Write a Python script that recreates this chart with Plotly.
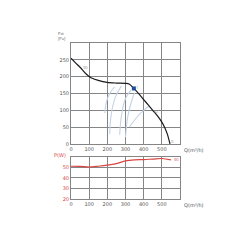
import plotly.graph_objects as go

# Data
q_fan = [0, 25, 50, 85, 110, 150, 200, 250, 300, 320, 346, 375, 400, 425, 450, 475, 500, 515, 530, 545]
p_fan = [255, 241, 228, 207, 197, 189, 183, 181, 180, 178, 165, 148, 132, 116, 100, 84, 65, 50, 30, 0]

q_pow = [0, 50, 100, 150, 200, 250, 300, 350, 400, 450, 500, 550]
w_pow = [51, 50.8, 50.3, 51, 52, 53.5, 56, 57, 57.3, 57.8, 58.3, 57]

arcs_q = [
    [186, 195, 213, 240],
    [213, 222, 245, 277],
    [268, 278, 300, 330],
    [300, 312, 335, 350],
    [322, 360, 400, 430],
]
arcs_p = [
    [92, 125, 150, 170],
    [30, 90, 140, 172],
    [27, 86, 135, 160],
    [20, 80, 130, 152],
    [50, 78, 100, 112],
]

op_q = [346]
op_p = [165]

x_ticks = [0, 100, 200, 300, 400, 500]
p_ticks = [0, 50, 100, 150, 200, 250]
w_ticks = [20, 30, 40, 50]

fig = go.Figure()

for aq, ap in zip(arcs_q, arcs_p):
    fig.add_trace(go.Scatter(x=aq, y=ap, mode="lines", line=dict(color="#c3d4e8", width=1.1, shape="spline"),
                             xaxis="x", yaxis="y", hoverinfo="skip"))

fig.add_trace(go.Scatter(x=q_fan, y=p_fan, mode="lines", line=dict(color="#1a1a1a", width=1.2, shape="spline", smoothing=0.8),
                         xaxis="x", yaxis="y"))
fig.add_trace(go.Scatter(x=op_q, y=op_p, mode="markers", marker=dict(color="#1f4e9c", size=4, symbol="square"),
                         xaxis="x", yaxis="y"))
fig.add_trace(go.Scatter(x=q_pow, y=w_pow, mode="lines", line=dict(color="#d9453f", width=1.2, shape="spline"),
                         xaxis="x2", yaxis="y2"))

grid = "#858585"
tickfont = dict(size=5, color="#555555", family="DejaVu Sans")
redfont = dict(size=5, color="#d9453f", family="DejaVu Sans")

fig.update_layout(
    width=250, height=250,
    margin=dict(l=71, r=70, t=43, b=51),
    paper_bgcolor="white", plot_bgcolor="white",
    showlegend=False,
    xaxis=dict(domain=[0, 1], range=[0, 600], tickvals=x_ticks, showgrid=True, gridcolor=grid, gridwidth=0.6,
               zeroline=False, showline=True, linecolor=grid, mirror=True, tickfont=tickfont,
               anchor="y", ticks=""),
    yaxis=dict(domain=[0.3526, 1], range=[0, 300], tickvals=p_ticks + [300], ticktext=[str(t) for t in p_ticks] + [""],
               showgrid=True, gridcolor=grid, gridwidth=0.6, zeroline=False, showline=True, linecolor=grid,
               mirror=True, tickfont=tickfont, anchor="x", ticks=""),
    xaxis2=dict(domain=[0, 1], range=[0, 600], tickvals=x_ticks, showgrid=True, gridcolor=grid, gridwidth=0.6,
                zeroline=False, showline=True, linecolor=grid, mirror=True, tickfont=tickfont, anchor="y2", ticks=""),
    yaxis2=dict(domain=[0, 0.271], range=[20, 60], tickvals=w_ticks + [60], ticktext=[str(t) for t in w_ticks] + [""],
                showgrid=True, gridcolor=grid, gridwidth=0.6, zeroline=False, showline=True, linecolor=grid,
                mirror=True, tickfont=redfont, anchor="x2", ticks=""),
)

ann = [
    dict(text="Pst<br>[Pa]", xref="paper", yref="paper", x=-0.04, y=1.0, xanchor="right", yanchor="bottom",
         font=dict(size=4, color="#555555"), align="left"),
    dict(text="Q(m³/h)", xref="paper", yref="y", x=1.02, y=0, xanchor="left", yanchor="top",
         font=tickfont, yshift=-1),
    dict(text="Q(m³/h)", xref="paper", yref="y2", x=1.02, y=20, xanchor="left", yanchor="top",
         font=tickfont, yshift=-1),
    dict(text="P(W)", xref="paper", yref="y2", x=-0.03, y=60, xanchor="right", yanchor="bottom",
         font=redfont, yshift=-3),
    dict(text="90", xref="x", yref="y", x=82, y=227, font=dict(size=4, color="#888888")),
    dict(text="1", xref="x", yref="y", x=362, y=167, font=dict(size=4, color="#888888")),
    dict(text="70", xref="x", yref="y", x=463, y=97, font=dict(size=4, color="#888888")),
    dict(text="0", xref="x", yref="y", x=560, y=8, font=dict(size=4, color="#888888")),
    dict(text="90", xref="x2", yref="y2", x=580, y=57, font=dict(size=4, color="#d9453f")),
]
for a in ann:
    a.setdefault("showarrow", False)
fig.update_layout(annotations=ann)

fig.write_html("out.html")
